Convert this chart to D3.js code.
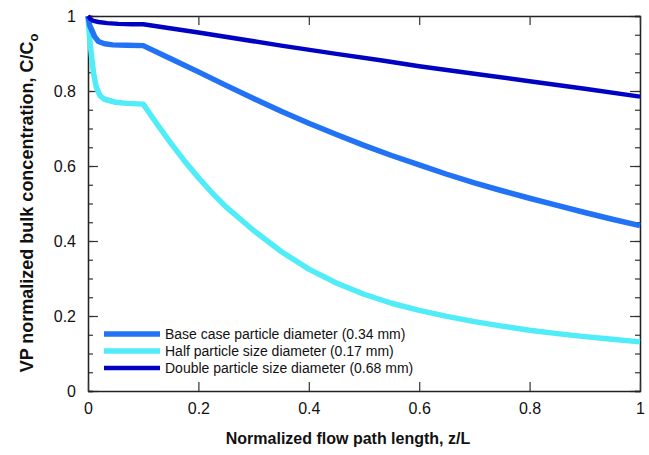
<!DOCTYPE html>
<html>
<head>
<meta charset="utf-8">
<script src="https://cdn.jsdelivr.net/npm/d3@7"></script>
<style>
  body { margin: 0; background: #fff; }
  text { font-family: Arial, "Liberation Sans", Helvetica, sans-serif; }
</style>
</head>
<body>
<div id="chart"></div>
<script>
// series (z/L, C/Co)
var baseX = [0, 0.003, 0.007, 0.012, 0.019, 0.03, 0.045, 0.07, 0.1, 0.15, 0.2, 0.25, 0.3, 0.35, 0.4, 0.45, 0.5, 0.55, 0.6, 0.65, 0.7, 0.75, 0.8, 0.85, 0.9, 0.95, 1];
var baseY = [1, 0.975, 0.962, 0.945, 0.932, 0.926, 0.923, 0.922, 0.921, 0.886, 0.851, 0.815, 0.78, 0.746, 0.714, 0.684, 0.655, 0.628, 0.603, 0.578, 0.555, 0.534, 0.514, 0.495, 0.476, 0.458, 0.441];

var halfX = [0, 0.002, 0.004, 0.007, 0.01, 0.015, 0.022, 0.03, 0.05, 0.07, 0.1, 0.125, 0.15, 0.175, 0.2, 0.225, 0.25, 0.3, 0.35, 0.4, 0.45, 0.5, 0.55, 0.6, 0.65, 0.7, 0.75, 0.8, 0.85, 0.9, 0.95, 1];
var halfY = [1, 0.96, 0.925, 0.885, 0.848, 0.81, 0.787, 0.778, 0.77, 0.767, 0.765, 0.712, 0.661, 0.613, 0.569, 0.528, 0.491, 0.428, 0.372, 0.325, 0.288, 0.258, 0.234, 0.215, 0.199, 0.185, 0.173, 0.162, 0.153, 0.145, 0.138, 0.131];

var dblX = [0, 0.005, 0.01, 0.019, 0.035, 0.055, 0.08, 0.1, 0.2, 0.35, 0.45, 0.53, 0.6, 0.7, 0.8, 0.9, 1];
var dblY = [1, 0.991, 0.987, 0.984, 0.981, 0.979, 0.978, 0.978, 0.956, 0.921, 0.899, 0.882, 0.866, 0.846, 0.826, 0.806, 0.785];

var seriesNames = ["Base case particle diameter (0.34 mm)", "Half particle size diameter (0.17 mm)", "Double particle size diameter (0.68 mm)"];
var seriesColors = ["#2272f5", "#50ecf8", "#0202c2"];
var xTicks = [0, 0.2, 0.4, 0.6, 0.8, 1];
var yTicks = [0, 0.2, 0.4, 0.6, 0.8, 1];
var yMinor = d3.range(0, 1.0001, 0.05);

var W = 649, H = 455;
var margin = { top: 16, right: 9, bottom: 64, left: 88 };
var width = W - margin.left - margin.right;
var height = H - margin.top - margin.bottom;

var svg = d3.select("#chart").append("svg")
    .attr("width", W)
    .attr("height", H);

var g = svg.append("g")
    .attr("transform", "translate(" + margin.left + "," + margin.top + ")");

var x = d3.scaleLinear().domain([0, 1]).range([0, width]);
var y = d3.scaleLinear().domain([0, 1]).range([height, 0]);

function zip(xs, ys) {
    return xs.map(function(v, i) { return { x: v, y: ys[i] }; });
}
var series = [zip(baseX, baseY), zip(halfX, halfY), zip(dblX, dblY)];
var widths = [5.5, 5.5, 4.5];

// axes: ticks point inward on every side
function styleAxis(sel) {
    sel.select(".domain").attr("stroke", "#222").attr("stroke-width", 1.3);
    sel.selectAll(".tick line").attr("stroke", "#333").attr("stroke-width", 1.2);
    sel.selectAll("text").style("font-size", "16px").attr("fill", "#111");
}

// minor y ticks
g.append("g")
    .call(d3.axisLeft(y).tickValues(yMinor).tickSize(-5).tickFormat(""))
    .call(styleAxis);
g.append("g")
    .attr("transform", "translate(" + width + ",0)")
    .call(d3.axisRight(y).tickValues(yMinor).tickSize(-5).tickFormat(""))
    .call(styleAxis);

g.append("g")
    .call(d3.axisLeft(y).tickValues(yTicks).tickSize(-10).tickPadding(12).tickSizeOuter(0).tickFormat(d3.format("")))
    .call(styleAxis);
g.append("g")
    .attr("transform", "translate(" + width + ",0)")
    .call(d3.axisRight(y).tickValues(yTicks).tickSize(-10).tickSizeOuter(0).tickFormat(""))
    .call(styleAxis);
g.append("g")
    .attr("transform", "translate(0," + height + ")")
    .call(d3.axisBottom(x).tickValues(xTicks).tickSize(-9).tickPadding(12).tickSizeOuter(0).tickFormat(d3.format("")))
    .call(styleAxis);
g.append("g")
    .call(d3.axisTop(x).tickValues(xTicks).tickSize(-9).tickSizeOuter(0).tickFormat(""))
    .call(styleAxis);

var line = d3.line()
    .x(function(d) { return x(d.x); })
    .y(function(d) { return y(d.y); });

// draw half first, then base, then double on top
[1, 0, 2].forEach(function(i) {
    g.append("path")
        .datum(series[i])
        .attr("fill", "none")
        .attr("stroke", seriesColors[i])
        .attr("stroke-width", widths[i])
        .attr("stroke-linejoin", "round")
        .attr("d", line);
});

// legend
var legend = g.append("g").attr("transform", "translate(16," + (height - 57) + ")");
seriesNames.forEach(function(name, i) {
    var row = legend.append("g").attr("transform", "translate(0," + (i * 17) + ")");
    row.append("line")
        .attr("x1", 0).attr("x2", 56)
        .attr("stroke", seriesColors[i])
        .attr("stroke-width", widths[i]);
    row.append("text")
        .attr("x", 61)
        .attr("y", 5)
        .style("font-size", "14px")
        .attr("fill", "#111")
        .text(name);
});

// axis titles
svg.append("text")
    .attr("x", 348)
    .attr("y", 444)
    .attr("text-anchor", "middle")
    .style("font-size", "16px")
    .style("font-weight", "bold")
    .attr("fill", "#111")
    .text("Normalized flow path length, z/L");

var yt = svg.append("text")
    .attr("transform", "translate(33,203) rotate(-90)")
    .attr("text-anchor", "middle")
    .style("font-size", "18px")
    .style("font-weight", "bold")
    .attr("fill", "#111");
yt.append("tspan").text("VP normalized bulk concentration, C/C");
yt.append("tspan").attr("dy", 5).style("font-size", "13px").text("o");
</script>
</body>
</html>
